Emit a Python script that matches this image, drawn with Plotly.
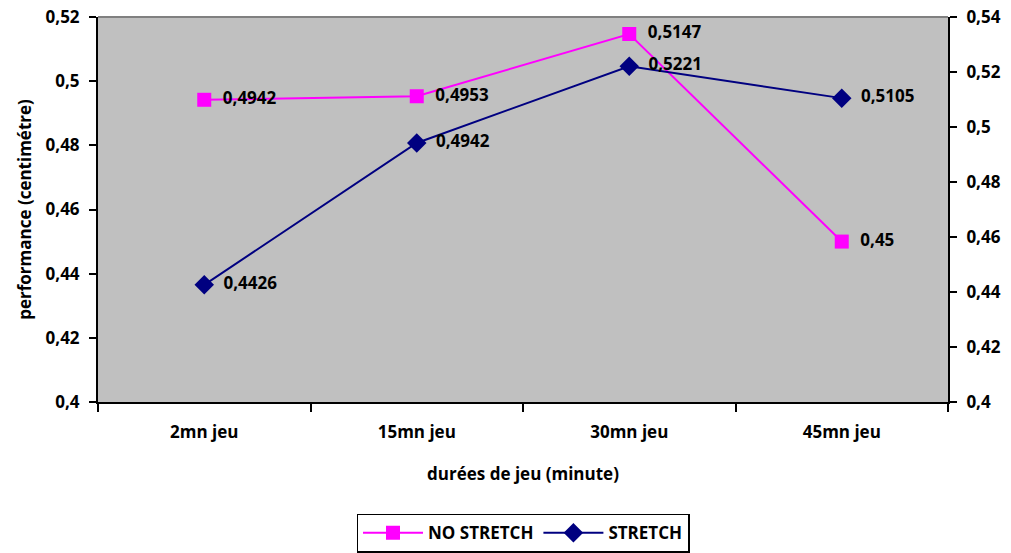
import plotly.graph_objects as go

categories = ["2mn jeu", "15mn jeu", "30mn jeu", "45mn jeu"]
no_stretch = [0.4942, 0.4953, 0.5147, 0.45]
stretch = [0.4426, 0.4942, 0.5221, 0.5105]
left_ticks = [0.4, 0.42, 0.44, 0.46, 0.48, 0.5, 0.52]
right_ticks = [0.4, 0.42, 0.44, 0.46, 0.48, 0.5, 0.52, 0.54]

FONT = "Open Sans"
NBSP = "\u00a0"


def fr(v):
    # decimal comma, with a small gap before the label
    return NBSP * 2 + f"{v}".replace(".", ",")


bold = dict(family=FONT, size=17, color="black", weight="bold")

fig = go.Figure()
fig.add_trace(go.Scatter(
    x=categories, y=no_stretch, name="NO STRETCH",
    mode="lines+markers+text",
    line=dict(color="#FF00FF", width=2),
    marker=dict(symbol="square", size=14, color="#FF00FF"),
    text=[fr(v) for v in no_stretch], textposition="middle right",
    textfont=bold,
    yaxis="y", cliponaxis=False,
))
fig.add_trace(go.Scatter(
    x=categories, y=stretch, name="STRETCH",
    mode="lines+markers+text",
    line=dict(color="#000080", width=2),
    marker=dict(symbol="diamond", size=15, color="#000080"),
    text=[fr(v) for v in stretch], textposition="middle right",
    textfont=bold,
    yaxis="y2", cliponaxis=False,
))

fig.update_layout(
    width=1011, height=553,
    margin=dict(l=98, r=63, t=17, b=151, autoexpand=False),
    paper_bgcolor="white", plot_bgcolor="#C0C0C0",
    separators=", ",
    font=dict(family=FONT, color="black"),
    showlegend=True,
    legend=dict(
        orientation="h", x=0.5, xanchor="center", y=-0.29, yanchor="top",
        bordercolor="black", borderwidth=1.5, bgcolor="white",
        font=bold, itemwidth=60, tracegroupgap=0,
    ),
    xaxis=dict(
        type="category", range=[-0.5, 3.5], tickson="boundaries",
        ticks="outside", ticklen=8, tickwidth=2, tickcolor="black",
        showline=True, linecolor="black", linewidth=2, showgrid=False,
        tickfont=bold, ticklabelstandoff=14,
        title=dict(text="durées de jeu (minute)", standoff=26, font=bold),
    ),
    yaxis=dict(
        range=[0.4, 0.52], tickvals=left_ticks,
        ticks="outside", ticklen=7, tickwidth=2, tickcolor="black",
        showline=True, linecolor="black", linewidth=2, showgrid=False,
        zeroline=False, tickfont=bold, ticklabelstandoff=6,
        title=dict(text="performance (centimétre)", standoff=10,
                   font=dict(family=FONT, size=17, color="black", weight="bold")),
    ),
    yaxis2=dict(
        range=[0.4, 0.54], tickvals=right_ticks, overlaying="y", side="right",
        ticks="outside", ticklen=7, tickwidth=2, tickcolor="black",
        showline=True, linecolor="black", linewidth=2, showgrid=False,
        zeroline=False, tickfont=bold, ticklabelstandoff=6,
    ),
    shapes=[dict(type="line", xref="paper", yref="paper", x0=0, x1=1, y0=1, y1=1,
                 line=dict(color="#808080", width=2), layer="above")],
)

fig.write_html("out.html")
